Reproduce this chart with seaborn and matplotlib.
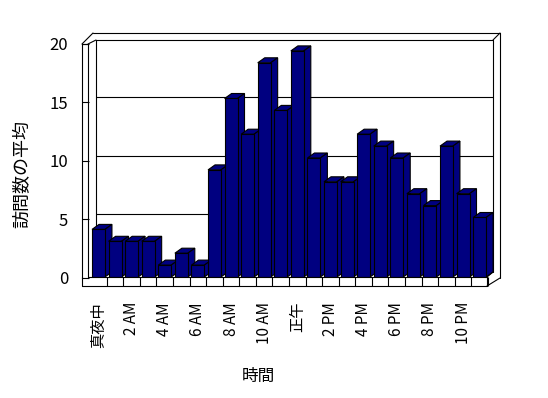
import numpy as np
import pandas as pd
import matplotlib
matplotlib.use('Agg')
import matplotlib.pyplot as plt
from matplotlib.lines import Line2D
from matplotlib.patches import Polygon
from matplotlib.transforms import Affine2D
import seaborn as sns

hours = list(range(24))
visits = [4, 3, 3, 3, 1, 2, 1, 9, 15, 12, 18, 14, 19, 10, 8, 8, 12, 11, 10, 7, 6, 11, 7, 5]
tick_pos = list(range(0, 24, 2))
tick_labels = ['真夜中', '2 AM', '4 AM', '6 AM', '8 AM', '10 AM',
               '正午', '2 PM', '4 PM', '6 PM', '8 PM', '10 PM']
y_ticks = [0, 5, 10, 15, 20]

sns.set_style('white')
plt.rcParams['font.family'] = ['Noto Sans CJK JP', 'DejaVu Sans']
plt.rcParams.update({'text.color': 'black', 'xtick.color': 'black',
                     'ytick.color': 'black', 'axes.labelcolor': 'black'})

W, H = 548, 398
NAVY = '#000080'
LW = 0.8
fig = plt.figure(figsize=(W / 100, H / 100), dpi=100)


def box(x0, y0, x1, y1):
    # pixel box (top-left origin) -> figure fraction rect
    return [x0 / W, 1 - y1 / H, (x1 - x0) / W, (y1 - y0) / H]


# pixel coords of the picture -> display
px = Affine2D().scale(1, -1).translate(0, H)


def seg(xs, ys, z=5):
    fig.add_artist(Line2D(xs, ys, transform=px, color='black', lw=LW, zorder=z))


# back wall with gridlines
axb = fig.add_axes(box(96, 38.5, 493, 272.5))
axb.set_ylim(0, 20)
axb.set_yticks([5, 10, 15])
axb.set_xticks([])
axb.yaxis.grid(True, color='black', lw=LW)
axb.tick_params(left=False, labelleft=False)
for s in axb.spines.values():
    s.set_visible(False)
axb.set_zorder(0)

# front plane: bars
ax = fig.add_axes(box(90.2, 39, 487.9, 277))
ax.set_zorder(1)
ax.patch.set_visible(False)
df = pd.DataFrame({'hour': hours, 'visits': visits})
sns.barplot(data=df, x='hour', y='visits', color=NAVY, saturation=1, width=0.78,
            edgecolor='black', linewidth=LW, ax=ax)
ax.set_xlim(-0.5, 23.5)
ax.set_ylim(0, 20)

# depth of the bars, 7px right and 5px up
dx = 7 * 24 / 397.7
dy = 5 * 20 / 238
for i, p in enumerate(ax.patches):
    x0, w, h = p.get_x(), p.get_width(), p.get_height()
    p.set_zorder(3 + i * 0.1 + 0.05)
    top = Polygon([(x0, h), (x0 + w, h), (x0 + w + dx, h + dy), (x0 + dx, h + dy)],
                  closed=True, fc=NAVY, ec='black', lw=LW, zorder=3 + i * 0.1, clip_on=False)
    side = Polygon([(x0 + w, 0), (x0 + w, h), (x0 + w + dx, h + dy), (x0 + w + dx, dy)],
                   closed=True, fc=NAVY, ec='black', lw=LW, zorder=3 + i * 0.1, clip_on=False)
    ax.add_patch(top)
    ax.add_patch(side)

ax.set_xticks(tick_pos, tick_labels, rotation=90, fontsize=11)
ax.set_xticks(np.arange(0.5, 24, 1), minor=True)
ax.tick_params(axis='x', which='major', length=0, pad=18)
ax.tick_params(axis='x', which='minor', bottom=True, length=6.5, direction='out',
               width=LW, color='black')
ax.set_yticks([])
ax.set_xlabel('')
ax.set_ylabel('')
for s in ax.spines.values():
    s.set_visible(False)

# left wall with the value axis
axl = fig.add_axes(box(82, 44, 88, 277.5))
axl.set_ylim(0, 20)
axl.set_xticks([])
axl.set_yticks(y_ticks, [str(v) for v in y_ticks], fontsize=12)
axl.tick_params(axis='y', left=True, direction='in', length=5, width=LW, pad=10,
                color='black')
axl.patch.set_visible(False)
for k in ['left', 'right', 'top']:
    axl.spines[k].set_visible(True)
    axl.spines[k].set_color('black')
    axl.spines[k].set_linewidth(LW)
axl.spines['bottom'].set_visible(False)

# back wall outline (behind the bars)
seg([96, 493], [40, 40], 0.5)
seg([96, 96], [40, 272], 0.5)
seg([493, 493], [40, 272], 0.5)
seg([93, 500], [33, 33], 0.5)
seg([493, 500], [40, 33], 0.5)
seg([500, 500], [33, 278], 0.5)

# left wall top and floor
seg([82, 93], [44, 33])
seg([88, 96], [44, 40])
seg([82, 82], [277, 286])
seg([82, 487], [286, 286])
seg([88, 487], [277, 277])
seg([487, 487], [277, 286])
seg([487, 500], [286, 278])
seg([487, 493], [277, 272])

fig.text(22 / W, 1 - 174 / H, '訪問数の平均', rotation=90, ha='center', va='center', fontsize=13)
fig.text(258 / W, 1 - 376 / H, '時間', ha='center', va='center', fontsize=12)

fig.savefig('out.png', dpi=100)
